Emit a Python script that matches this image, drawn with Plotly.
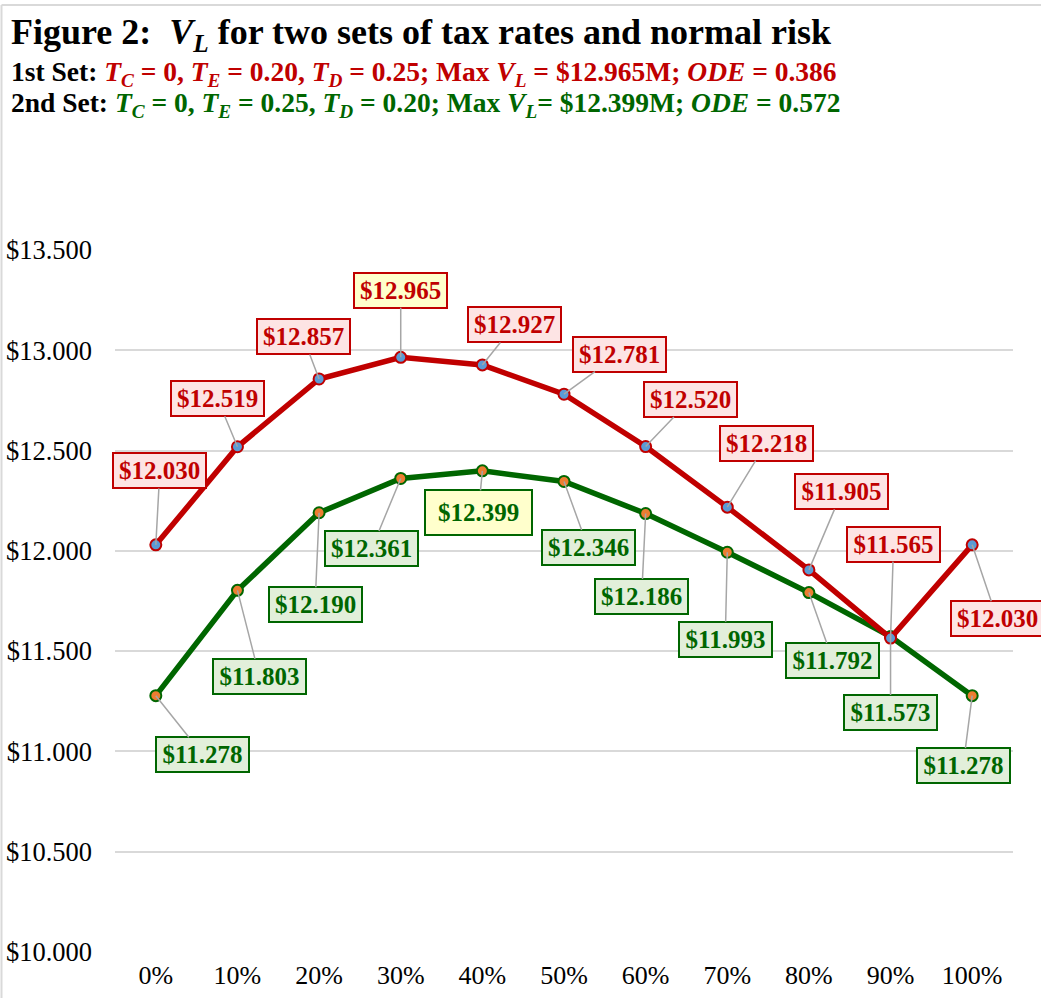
import plotly.graph_objects as go

categories = ["0%", "10%", "20%", "30%", "40%", "50%", "60%", "70%", "80%", "90%", "100%"]
set1_values = [12.030, 12.519, 12.857, 12.965, 12.927, 12.781, 12.520, 12.218, 11.905, 11.565, 12.030]
set2_values = [11.278, 11.803, 12.190, 12.361, 12.399, 12.346, 12.186, 11.993, 11.792, 11.573, 11.278]
y_ticks = [10.0, 10.5, 11.0, 11.5, 12.0, 12.5, 13.0, 13.5]
y_tick_labels = ["$10.000", "$10.500", "$11.000", "$11.500", "$12.000", "$12.500", "$13.000", "$13.500"]

# callout offsets (pixels) from each point to the centre of its label box
set1_offsets = [(4, -74), (-20, -48), (-16, -42), (0, -67), (32, -40), (55, -40),
                (45, -47), (39, -64), (33, -78), (3, -94), (25, 74)]
set2_offsets = [(47, 59), (22, 86), (-4, 92), (-29, 70), (-4, 42), (24, 66),
                (-4, 83), (-2, 87), (24, 68), (0, 76), (-9, 70)]

FONT = "Liberation Serif"
RED = "#C00000"
GREEN = "#006600"
W, H = 1041, 998
ML, MR, MT, MB = 115, 28, 250, 46
PW, PH = W - ML - MR, H - MT - MB


def px(xp):
    return (xp - ML) / PW


def py(yp):
    return (H - MB - yp) / PH


fig = go.Figure()
fig.add_trace(go.Scatter(
    x=categories, y=set2_values, mode="lines+markers",
    line=dict(color=GREEN, width=5.5),
    marker=dict(size=11, color="#ED7D31", line=dict(color=GREEN, width=2)),
    showlegend=False, hoverinfo="skip"))
fig.add_trace(go.Scatter(
    x=categories, y=set1_values, mode="lines+markers",
    line=dict(color=RED, width=5.5),
    marker=dict(size=11, color="#5B9BD5", line=dict(color=RED, width=2)),
    showlegend=False, hoverinfo="skip"))

annotations = []
max1 = max(set1_values)
max2 = max(set2_values)
for cat, v, (dx, dy) in zip(categories, set1_values, set1_offsets):
    is_max = v == max1
    annotations.append(dict(
        x=cat, y=v, xref="x", yref="y", ax=dx, ay=dy,
        text=f"<b>${v:.3f}</b>", showarrow=True, arrowhead=0, arrowwidth=1.5,
        arrowcolor="#A6A6A6", standoff=0,
        font=dict(family=FONT, size=25, color=RED),
        bgcolor="#FFFFCC" if is_max else "#FDE4E4", bordercolor=RED,
        borderwidth=2, borderpad=1, width=89, height=31))
for cat, v, (dx, dy) in zip(categories, set2_values, set2_offsets):
    is_max = v == max2
    annotations.append(dict(
        x=cat, y=v, xref="x", yref="y", ax=dx, ay=dy,
        text=f"<b>${v:.3f}</b>", showarrow=True, arrowhead=0, arrowwidth=1.5,
        arrowcolor="#A6A6A6", standoff=0,
        font=dict(family=FONT, size=25, color=GREEN),
        bgcolor="#FFFFCC" if is_max else "#E2EFDA", bordercolor=GREEN,
        borderwidth=2, borderpad=1,
        width=103 if is_max else 89, height=41 if is_max else 31))

title1 = "<b>Figure 2:  <i>V<sub>L</sub></i> for two sets of tax rates and normal risk</b>"
title2 = ("<b>1st Set: <span style='color:%s'><i>T<sub>C</sub></i> = 0, <i>T<sub>E</sub></i> = 0.20, "
          "<i>T<sub>D</sub></i> = 0.25; Max <i>V<sub>L</sub></i> = $12.965M; <i>ODE</i> = 0.386</span></b>" % RED)
title3 = ("<b>2nd Set: <span style='color:%s'><i>T<sub>C</sub></i> = 0, <i>T<sub>E</sub></i> = 0.25, "
          "<i>T<sub>D</sub></i> = 0.20; Max <i>V<sub>L</sub></i>= $12.399M; <i>ODE</i> = 0.572</span></b>" % GREEN)
for txt, yc, size in [(title1, 34, 36), (title2, 73, 27.5), (title3, 105, 27.5)]:
    annotations.append(dict(
        x=px(10), y=py(yc), xref="paper", yref="paper", xanchor="left", yanchor="middle",
        text=txt, showarrow=False, borderpad=0, font=dict(family=FONT, size=size, color="black")))

fig.update_layout(
    width=W, height=H,
    margin=dict(l=ML, r=MR, t=MT, b=MB, autoexpand=False),
    paper_bgcolor="white", plot_bgcolor="white",
    font=dict(family=FONT, color="black"),
    annotations=annotations,
    shapes=[
        dict(type="line", xref="paper", yref="paper", x0=px(1.5), x1=px(1.5), y0=py(5), y1=py(1100),
             line=dict(color="#D9D9D9", width=2)),
        dict(type="line", xref="paper", yref="paper", x0=px(1.5), x1=px(1100), y0=py(5), y1=py(5),
             line=dict(color="#D9D9D9", width=2)),
    ],
    xaxis=dict(type="category", range=[-0.5, len(categories) - 0.5], showgrid=False, automargin=False,
               showline=False, zeroline=False, tickfont=dict(family=FONT, size=26, color="black"),
               ticks="", ticklabelstandoff=5),
    yaxis=dict(range=[10.0, 13.5], tickvals=y_ticks, ticktext=y_tick_labels, automargin=False,
               showgrid=True, gridcolor="#D9D9D9", gridwidth=1.5, zeroline=False, showline=False,
               tickfont=dict(family=FONT, size=26.5, color="black"), ticks="", ticklabelstandoff=22),
)

fig.write_html("out.html", config={"displayModeBar": False},
               post_script="document.body.style.margin='0px';document.body.style.overflow='hidden';")
